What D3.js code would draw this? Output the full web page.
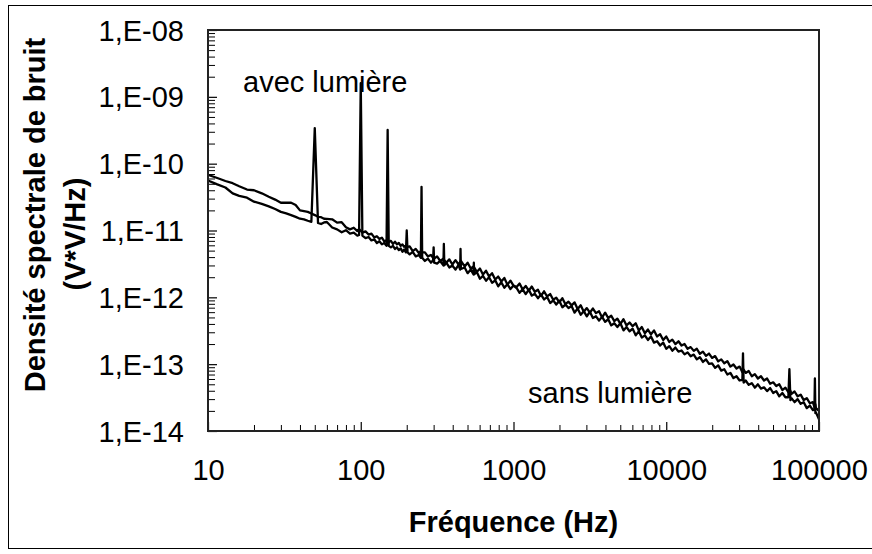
<!DOCTYPE html>
<html><head><meta charset="utf-8">
<script src="https://cdn.jsdelivr.net/npm/d3@7"></script>
<style>body{margin:0;background:#fff}svg{display:block}</style>
</head><body>
<svg id="chart" width="872" height="554"></svg>
<script>
// ---- data ----
const freqs = [10,11.5,13,14.5,16,18,20,22.5,25,27.5,30,32.5,35,37.5,40,42.5,45,47.5,50,52.5,55,57.5,60,65,70,75,80,85,90,95,97.5,100,102.5,107.5,112.5,117.5,122.5,127.5,132.5,137.5,142.5,147.5,150,152.5,157.5,162.5,167.5,172.5,177.5,182.5,187.5,192.5,197.5,200,202.5,209,219,229,240,247.5,250,252.5,263,275,288,297.5,300,302.5,316,331,347.5,350,352.5,363,380,398,417,437,447.5,450,452.5,479,501,525,547.5,550,552.5,575,603,631,661,692,724,759,794,832,871,912,955,1000,
1047,1096,1148,1202,1259,1318,1380,1445,1514,1585,1660,1738,1820,1905,1995,2089,2188,2291,2399,2512,2630,2754,2884,3020,3162,3311,3467,3631,3802,3981,4169,4365,4571,4786,5012,5248,5495,5754,6026,6310,6607,6918,7244,7586,7943,8318,8710,9120,9550,10000,
10470,10960,11480,12020,12590,13180,13800,14450,15140,15850,16600,17380,18200,19050,19950,20890,21880,22910,23990,25120,26300,27540,28840,30200,31500,31800,32100,33110,34670,36310,38020,39810,41690,43650,45710,47860,50120,52480,54950,57540,60260,63000,64000,65000,66070,69180,72440,75860,79430,83180,87100,91200,93300,94000,94700,95500,100000];

const psdSans = [6.8e-11,6.1e-11,5.5e-11,5.1e-11,4.6e-11,4.1e-11,4.0e-11,3.6e-11,3.2e-11,2.9e-11,2.6e-11,2.6e-11,2.6e-11,2.4e-11,2.0e-11,1.95e-11,1.9e-11,1.8e-11,1.7e-11,1.6e-11,1.58e-11,1.5e-11,1.49e-11,1.47e-11,1.31e-11,1.33e-11,1.12e-11,1.04e-11,1.10e-11,9.8e-12,1.05e-11,9.9e-12,9.3e-12,9.7e-12,8.7e-12,9.0e-12,7.9e-12,8.2e-12,7.5e-12,7.8e-12,6.9e-12,7.1e-12,7.2e-12,6.7e-12,7.0e-12,6.3e-12,6.8e-12,6.2e-12,6.5e-12,5.9e-12,6.2e-12,5.7e-12,5.9e-12,5.5e-12,5.7e-12,5.8e-12,4.9e-12,5.3e-12,4.6e-12,4.9e-12,4.6e-12,4.7e-12,4.7e-12,4.1e-12,4.3e-12,3.9e-12,4.1e-12,3.8e-12,4.1e-12,3.5e-12,3.8e-12,3.5e-12,3.6e-12,3.3e-12,3.7e-12,3.1e-12,3.6e-12,3.1e-12,3.4e-12,3.0e-12,3.5e-12,2.9e-12,3.3e-12,2.7e-12,2.9e-12,2.6e-12,2.8e-12,2.4e-12,2.7e-12,2.2e-12,2.5e-12,2.05e-12,2.3e-12,1.85e-12,2.05e-12,1.73e-12,1.95e-12,1.55e-12,1.78e-12,1.50e-12,
1.43e-12,1.61e-12,1.31e-12,1.48e-12,1.26e-12,1.45e-12,1.21e-12,1.30e-12,1.05e-12,1.23e-12,1.03e-12,1.12e-12,9.2e-13,9.9e-13,8.4e-13,9.7e-13,7.9e-13,8.6e-13,7.6e-13,8.4e-13,6.7e-13,7.6e-13,6.1e-13,6.9e-13,5.9e-13,6.8e-13,5.8e-13,6.2e-13,5.0e-13,5.9e-13,4.9e-13,5.3e-13,4.4e-13,4.8e-13,4.0e-13,4.7e-13,3.8e-13,4.2e-13,3.7e-13,4.1e-13,3.2e-13,3.6e-13,2.9e-13,3.3e-13,2.8e-13,3.2e-13,2.6e-13,2.8e-13,2.3e-13,2.6e-13,
2.15e-13,2.33e-13,2.0e-13,2.2e-13,1.9e-13,2.0e-13,1.7e-13,1.8e-13,1.58e-13,1.7e-13,1.43e-13,1.54e-13,1.33e-13,1.44e-13,1.24e-13,1.32e-13,1.1e-13,1.18e-13,1.03e-13,1.11e-13,9.2e-14,9.9e-14,8.6e-14,9.2e-14,7.6e-14,8.1e-14,8.3e-14,7.4e-14,7.9e-14,6.6e-14,7.1e-14,6.1e-14,6.6e-14,5.7e-14,6.1e-14,5.1e-14,5.35e-14,4.7e-14,5.0e-14,4.1e-14,4.45e-14,3.8e-14,4.0e-14,4.0e-14,3.6e-14,3.9e-14,3.3e-14,3.5e-14,2.9e-14,3.1e-14,2.6e-14,2.7e-14,2.3e-14,2.4e-14,2.5e-14,2.2e-14,2.0e-14];

const psdAvec = [5.6e-11,4.9e-11,4.4e-11,3.6e-11,3.3e-11,3.1e-11,2.7e-11,2.5e-11,2.3e-11,2.1e-11,1.9e-11,1.8e-11,1.7e-11,1.6e-11,1.5e-11,1.47e-11,1.4e-11,1.35e-11,3.4e-10,1.3e-11,1.25e-11,1.32e-11,1.34e-11,1.11e-11,1.04e-11,9.4e-12,1.01e-11,9.0e-12,9.3e-12,8.4e-12,8.6e-12,1.6e-9,8.4e-12,7.7e-12,8.0e-12,7.1e-12,7.4e-12,6.5e-12,6.9e-12,6.2e-12,6.5e-12,5.9e-12,3.2e-10,5.9e-12,5.6e-12,5.9e-12,5.3e-12,5.6e-12,5.1e-12,5.4e-12,4.8e-12,5.2e-12,4.7e-12,1.0e-11,4.7e-12,4.4e-12,4.8e-12,4.1e-12,4.3e-12,3.9e-12,4.5e-11,3.9e-12,3.5e-12,3.8e-12,3.3e-12,3.6e-12,5.6e-12,3.3e-12,3.2e-12,3.5e-12,3.0e-12,6.3e-12,3.0e-12,3.3e-12,2.8e-12,3.0e-12,2.6e-12,3.05e-12,2.6e-12,5.3e-12,2.65e-12,2.8e-12,2.3e-12,2.6e-12,2.2e-12,3.3e-12,2.2e-12,2.4e-12,1.9e-12,2.1e-12,1.77e-12,2.0e-12,1.65e-12,1.8e-12,1.46e-12,1.68e-12,1.39e-12,1.57e-12,1.33e-12,1.50e-12,
1.38e-12,1.17e-12,1.32e-12,1.12e-12,1.30e-12,1.06e-12,1.13e-12,9.7e-13,1.10e-12,9.3e-13,1.01e-12,8.2e-13,9.0e-13,7.8e-13,8.9e-13,7.1e-13,7.8e-13,6.9e-13,7.4e-13,5.9e-13,6.8e-13,5.5e-13,6.2e-13,5.2e-13,6.1e-13,4.9e-13,5.2e-13,4.5e-13,5.1e-13,4.3e-13,4.7e-13,3.8e-13,4.1e-13,3.6e-13,4.1e-13,3.2e-13,3.6e-13,3.1e-13,3.4e-13,2.7e-13,3.1e-13,2.5e-13,2.7e-13,2.3e-13,2.6e-13,2.1e-13,2.2e-13,1.9e-13,2.1e-13,1.7e-13,
1.86e-13,1.59e-13,1.77e-13,1.54e-13,1.6e-13,1.4e-13,1.5e-13,1.31e-13,1.39e-13,1.18e-13,1.27e-13,1.08e-13,1.18e-13,1.01e-13,1.03e-13,8.8e-14,9.6e-14,8.0e-14,8.4e-14,7.0e-14,7.4e-14,6.2e-14,6.6e-14,5.7e-14,5.8e-14,1.45e-13,5.3e-14,5.7e-14,4.9e-14,5.2e-14,4.45e-14,5.0e-14,4.3e-14,4.5e-14,3.95e-14,4.4e-14,3.7e-14,3.95e-14,3.3e-14,3.7e-14,3.2e-14,3.2e-14,8.4e-14,2.9e-14,3.1e-14,2.7e-14,3.0e-14,2.55e-14,2.7e-14,2.2e-14,2.4e-14,2.05e-14,2.1e-14,6.1e-14,1.85e-14,1.9e-14,1.5e-14];

const xTickValues = [10, 100, 1000, 10000, 100000];
const xTickLabels = ["10", "100", "1000", "10000", "100000"];
const yTickValues = [1e-14, 1e-13, 1e-12, 1e-11, 1e-10, 1e-9, 1e-8];
const yTickLabels = ["1,E-14", "1,E-13", "1,E-12", "1,E-11", "1,E-10", "1,E-09", "1,E-08"];
const seriesLabels = ["avec lumière", "sans lumière"];
const xTitle = "Fréquence (Hz)";
const yTitle = ["Densité spectrale de bruit", "(V*V/Hz)"];

// ---- drawing ----
const FONT = "'Liberation Sans', Arial, Helvetica, sans-serif";
const FS = 29;
const L = 208, R = 819, T = 30, B = 431;
const x = d3.scaleLog().domain([10, 100000]).range([L, R]);
const y = d3.scaleLog().domain([1e-14, 1e-8]).range([B, T]);
const svg = d3.select('#chart');

// outer chart border (right edge falls outside the picture)
svg.append('rect').attr('x', 8.5).attr('y', 5.5).attr('width', 880).attr('height', 543)
  .attr('fill', 'none').attr('stroke', '#000').attr('stroke-width', 1);

const minorOf = (vals) => {
  const out = [];
  for (let i = 0; i < vals.length - 1; i++) for (let k = 2; k <= 9; k++) out.push(vals[i] * k);
  return out;
};

// minor ticks
svg.append('g').attr('transform', `translate(0,${B})`)
  .call(d3.axisBottom(x).tickValues(minorOf(xTickValues)).tickSizeInner(-6).tickSizeOuter(0).tickFormat(''))
  .call(g => g.select('.domain').remove())
  .call(g => g.selectAll('line').attr('stroke', '#000').attr('stroke-width', 1));
svg.append('g').attr('transform', `translate(${L},0)`)
  .call(d3.axisLeft(y).tickValues(minorOf(yTickValues)).tickSizeInner(-7).tickSizeOuter(0).tickFormat(''))
  .call(g => g.select('.domain').remove())
  .call(g => g.selectAll('line').attr('stroke', '#000').attr('stroke-width', 1));

// major ticks + labels
svg.append('g').attr('transform', `translate(0,${B})`)
  .call(d3.axisBottom(x).tickValues(xTickValues).tickSizeInner(-9).tickSizeOuter(0)
    .tickFormat((d, i) => xTickLabels[i]))
  .call(g => g.select('.domain').remove())
  .call(g => g.selectAll('line').attr('stroke', '#000').attr('stroke-width', 1.2))
  .call(g => g.selectAll('text').attr('y', 39).attr('dy', '0.35em')
    .attr('font-family', FONT).attr('font-size', FS).attr('fill', '#000'));
svg.append('g').attr('transform', `translate(${L},0)`)
  .call(d3.axisLeft(y).tickValues(yTickValues).tickSizeInner(-9).tickSizeOuter(0)
    .tickFormat((d, i) => yTickLabels[i]))
  .call(g => g.select('.domain').remove())
  .call(g => g.selectAll('line').attr('stroke', '#000').attr('stroke-width', 1.2))
  .call(g => g.selectAll('text').attr('x', -24).attr('dy', '0.35em')
    .attr('font-family', FONT).attr('font-size', FS).attr('fill', '#000'));

// series
svg.append('clipPath').attr('id', 'clip').append('rect')
  .attr('x', L).attr('y', T).attr('width', R - L).attr('height', B - T);
const line = d3.line().x(d => x(d[0])).y(d => y(d[1]));
const plot = svg.append('g').attr('clip-path', 'url(#clip)');
[psdSans, psdAvec].forEach(vals => {
  plot.append('path').datum(freqs.map((f, i) => [f, vals[i]]))
    .attr('d', line).attr('fill', 'none').attr('stroke', '#000')
    .attr('stroke-width', 2.3).attr('stroke-linejoin', 'round');
});

// plot frame
svg.append('rect').attr('x', L).attr('y', T).attr('width', R - L).attr('height', B - T)
  .attr('fill', 'none').attr('stroke', '#222').attr('stroke-width', 2);

// annotations
svg.append('text').attr('x', 243).attr('y', 92).attr('font-family', FONT).attr('font-size', FS)
  .text(seriesLabels[0]);
svg.append('text').attr('x', 528).attr('y', 403).attr('font-family', FONT).attr('font-size', FS)
  .text(seriesLabels[1]);

// axis titles
svg.append('text').attr('x', (L + R) / 2).attr('y', 522).attr('dy', '0.35em').attr('text-anchor', 'middle')
  .attr('font-family', FONT).attr('font-size', FS).attr('font-weight', 'bold').text(xTitle);
svg.append('text').attr('transform', 'translate(35,215) rotate(-90)').attr('dy', '0.35em').attr('text-anchor', 'middle')
  .attr('font-family', FONT).attr('font-size', FS).attr('font-weight', 'bold').text(yTitle[0]);
svg.append('text').attr('transform', 'translate(75,234) rotate(-90)').attr('dy', '0.35em').attr('text-anchor', 'middle')
  .attr('font-family', FONT).attr('font-size', FS).attr('font-weight', 'bold').text(yTitle[1]);
</script>
</body></html>
